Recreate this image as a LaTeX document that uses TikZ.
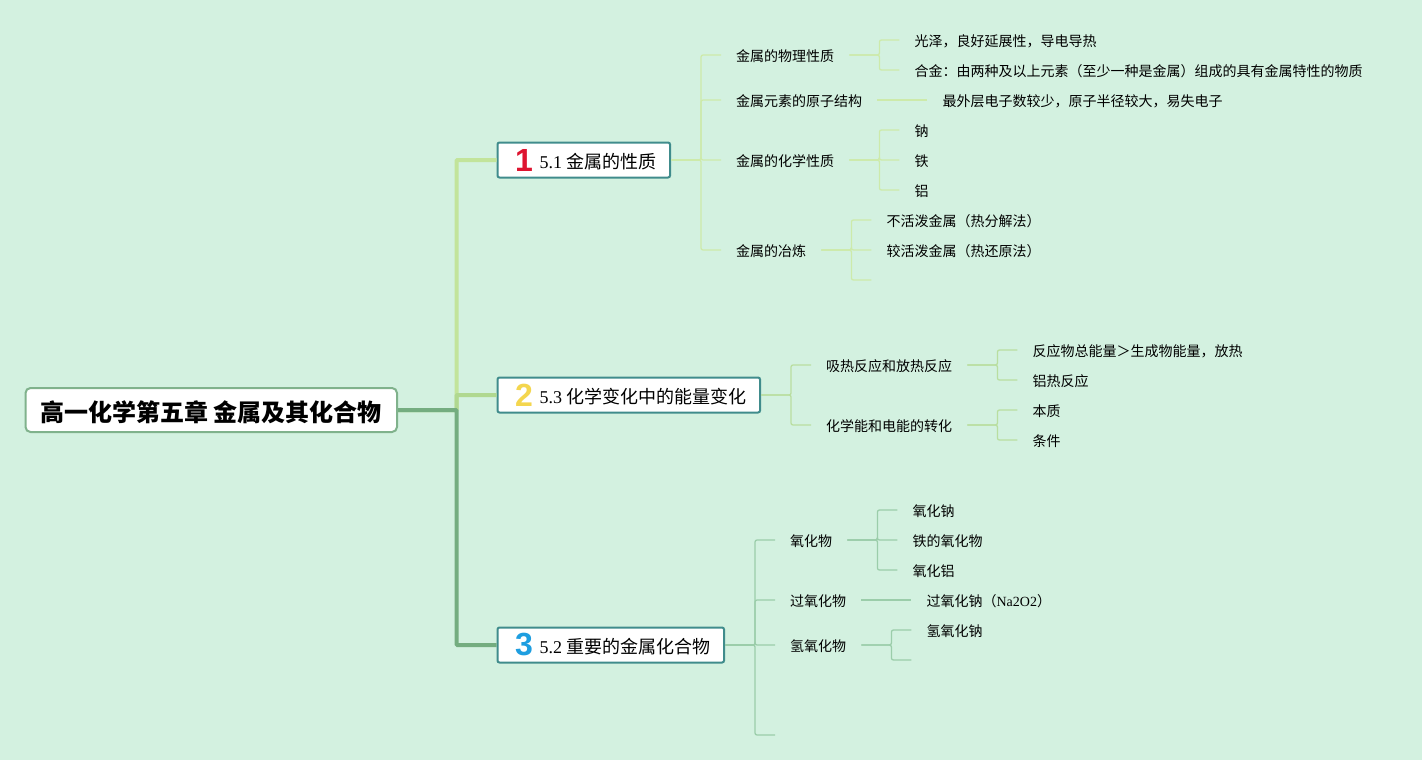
\documentclass[tikz,border=0pt]{standalone}
\usepackage{fontspec}
\setmainfont{Liberation Serif}
\newfontfamily\cjk{Noto Sans CJK SC}
\newfontfamily\numfont{Liberation Sans}
\usepackage{xcolor}
\usepackage{tikz}
\usetikzlibrary{
  calc,
  positioning
}
\definecolor{mintpaper}{RGB}{211,241,224}
\definecolor{rootgreen}{RGB}{128,178,140}
\definecolor{boxteal}{RGB}{64,140,140}
\definecolor{trunklime}{RGB}{194,228,155}
\definecolor{trunkolive}{RGB}{176,216,144}
\definecolor{trunkgreen}{RGB}{116,173,128}
\definecolor{limetwig}{RGB}{205,234,170}
\definecolor{olivetwig}{RGB}{185,222,160}
\definecolor{greentwig}{RGB}{155,205,170}
\definecolor{numred}{RGB}{222,20,48}
\definecolor{numyellow}{RGB}{244,214,78}
\definecolor{numblue}{RGB}{30,158,224}
\newcommand{\lat}[1]{{\rmfamily #1}}
\tikzset{
  rootbox/.style={draw=rootgreen,line width=2pt,fill=white,
    rounded corners=5pt,minimum height=44pt,inner xsep=15pt,inner ysep=0pt,
    text height=24pt,text depth=2pt,
    font=\cjk\fontsize{24}{28}\selectfont\bfseries},
  secbox/.style={draw=boxteal,line width=2pt,fill=white,
    rounded corners=2pt,minimum height=35pt,inner xsep=14pt,inner ysep=0pt,
    text height=20pt,text depth=2.4pt,
    font=\cjk\fontsize{18}{22}\selectfont},
  numicon/.style={font=\numfont\fontsize{32}{32}\selectfont\bfseries,inner sep=0pt},
  item/.style={inner xsep=15pt,inner ysep=0pt,text height=15pt,text depth=2pt,
    font=\cjk\fontsize{14}{17}\selectfont},
  trunk/.style={line width=4pt,rounded corners=1pt},
  twig/.style={line width=1.3pt,rounded corners=2pt},
  twiglime/.style={twig,draw=limetwig},
  twigolive/.style={twig,draw=olivetwig},
  twiggreen/.style={twig,draw=greentwig}
}

\begin{document}
\begin{tikzpicture}[x=1pt,y=-1pt,node distance=50pt]
  \fill[mintpaper] (0,0) rectangle (1422,760);
  \useasboundingbox (0,0) rectangle (1422,760);

  \node[rootbox,anchor=west] (root) at (24.5,410) {高一化学第五章 金属及其化合物};

  \node[secbox,anchor=west] (metal) at (496.5,160) {\hspace*{28pt}\lat{5.1} 金属的性质};
  \node[secbox,anchor=west] (energy) at (496.5,395) {\hspace*{28pt}\lat{5.3} 化学变化中的能量变化};
  \node[secbox,anchor=west] (compound) at (496.5,645) {\hspace*{28pt}\lat{5.2} 重要的金属化合物};
  \node[numicon,text=numred] (numa) at (524,160) {1};
  \node[numicon,text=numyellow] (numb) at (524,395) {2};
  \node[numicon,text=numblue] (numc) at (524,645) {3};

  \draw[trunk,draw=trunklime] (root.east)--+(58.5,0)|-(metal.west);
  \draw[trunk,draw=trunkolive] (root.east)--+(58.5,0)|-(energy.west);
  \draw[trunk,draw=trunkgreen] (root.east)--+(58.5,0)|-(compound.west);

  % 5.1
  \node[item,right=of metal,yshift=105pt] (phys) {金属的物理性质};
  \node[item,right=of metal,yshift=60pt] (atom) {金属元素的原子结构};
  \node[item,right=of metal] (chem) {金属的化学性质};
  \node[item,right=of metal,yshift=-90pt] (smelt) {金属的冶炼};
  \foreach \n in {phys,atom,chem,smelt}
    \draw[twiglime] (metal.east)--+(30,0)|-(\n.west);

  \node[item,right=of phys,yshift=15pt] (luster) {光泽，良好延展性，导电导热};
  \node[item,right=of phys,yshift=-15pt] (alloy) {合金：由两种及以上元素（至少一种是金属）组成的具有金属特性的物质};
  \draw[twiglime] (phys.east)--+(30,0)|-(luster.west);
  \draw[twiglime] (phys.east)--+(30,0)|-(alloy.west);

  \node[item,right=of atom] (shell) {最外层电子数较少，原子半径较大，易失电子};
  \draw[twiglime] (atom.east)--(shell.west);

  \node[item,right=of chem,yshift=30pt] (na) {钠};
  \node[item,right=of chem] (fe) {铁};
  \node[item,right=of chem,yshift=-30pt] (al) {铝};
  \foreach \n in {na,fe,al}
    \draw[twiglime] (chem.east)--+(30,0)|-(\n.west);

  \node[item,right=of smelt,yshift=30pt] (inert) {不活泼金属（热分解法）};
  \node[item,right=of smelt] (active) {较活泼金属（热还原法）};
  \coordinate[right=of smelt,yshift=-30pt] (smeltend);
  \draw[twiglime] (smelt.east)--+(30,0)|-(inert.west);
  \draw[twiglime] (smelt.east)--+(30,0)|-(active.west);
  \draw[twiglime] (smelt.east)--+(30,0)|-(smeltend);

  % 5.3
  \node[item,right=of energy,yshift=30pt] (heat) {吸热反应和放热反应};
  \node[item,right=of energy,yshift=-30pt] (cell) {化学能和电能的转化};
  \draw[twigolive] (energy.east)--+(30,0)|-(heat.west);
  \draw[twigolive] (energy.east)--+(30,0)|-(cell.west);

  \node[item,right=of heat,yshift=15pt] (exo) {反应物总能量＞生成物能量，放热};
  \node[item,right=of heat,yshift=-15pt] (thermite) {铝热反应};
  \draw[twigolive] (heat.east)--+(30,0)|-(exo.west);
  \draw[twigolive] (heat.east)--+(30,0)|-(thermite.west);

  \node[item,right=of cell,yshift=15pt] (nature) {本质};
  \node[item,right=of cell,yshift=-15pt] (cond) {条件};
  \draw[twigolive] (cell.east)--+(30,0)|-(nature.west);
  \draw[twigolive] (cell.east)--+(30,0)|-(cond.west);

  % 5.2
  \node[item,right=of compound,yshift=105pt] (oxide) {氧化物};
  \node[item,right=of compound,yshift=45pt] (peroxide) {过氧化物};
  \node[item,right=of compound] (hydroxide) {氢氧化物};
  \coordinate[right=of compound,yshift=-90pt] (compoundend);
  \foreach \n in {oxide.west,peroxide.west,hydroxide.west,compoundend}
    \draw[twiggreen] (compound.east)--+(30,0)|-(\n);

  \node[item,right=of oxide,yshift=30pt] (naoxide) {氧化钠};
  \node[item,right=of oxide] (feoxide) {铁的氧化物};
  \node[item,right=of oxide,yshift=-30pt] (aloxide) {氧化铝};
  \foreach \n in {naoxide,feoxide,aloxide}
    \draw[twiggreen] (oxide.east)--+(30,0)|-(\n.west);

  \node[item,right=of peroxide] (naperox) {过氧化钠（\lat{Na2O2}）};
  \draw[twiggreen] (peroxide.east)--(naperox.west);

  \node[item,right=of hydroxide,yshift=15pt] (naoh) {氢氧化钠};
  \coordinate[right=of hydroxide,yshift=-15pt] (hydroxend);
  \draw[twiggreen] (hydroxide.east)--+(30,0)|-(naoh.west);
  \draw[twiggreen] (hydroxide.east)--+(30,0)|-(hydroxend);
\end{tikzpicture}
\end{document}
